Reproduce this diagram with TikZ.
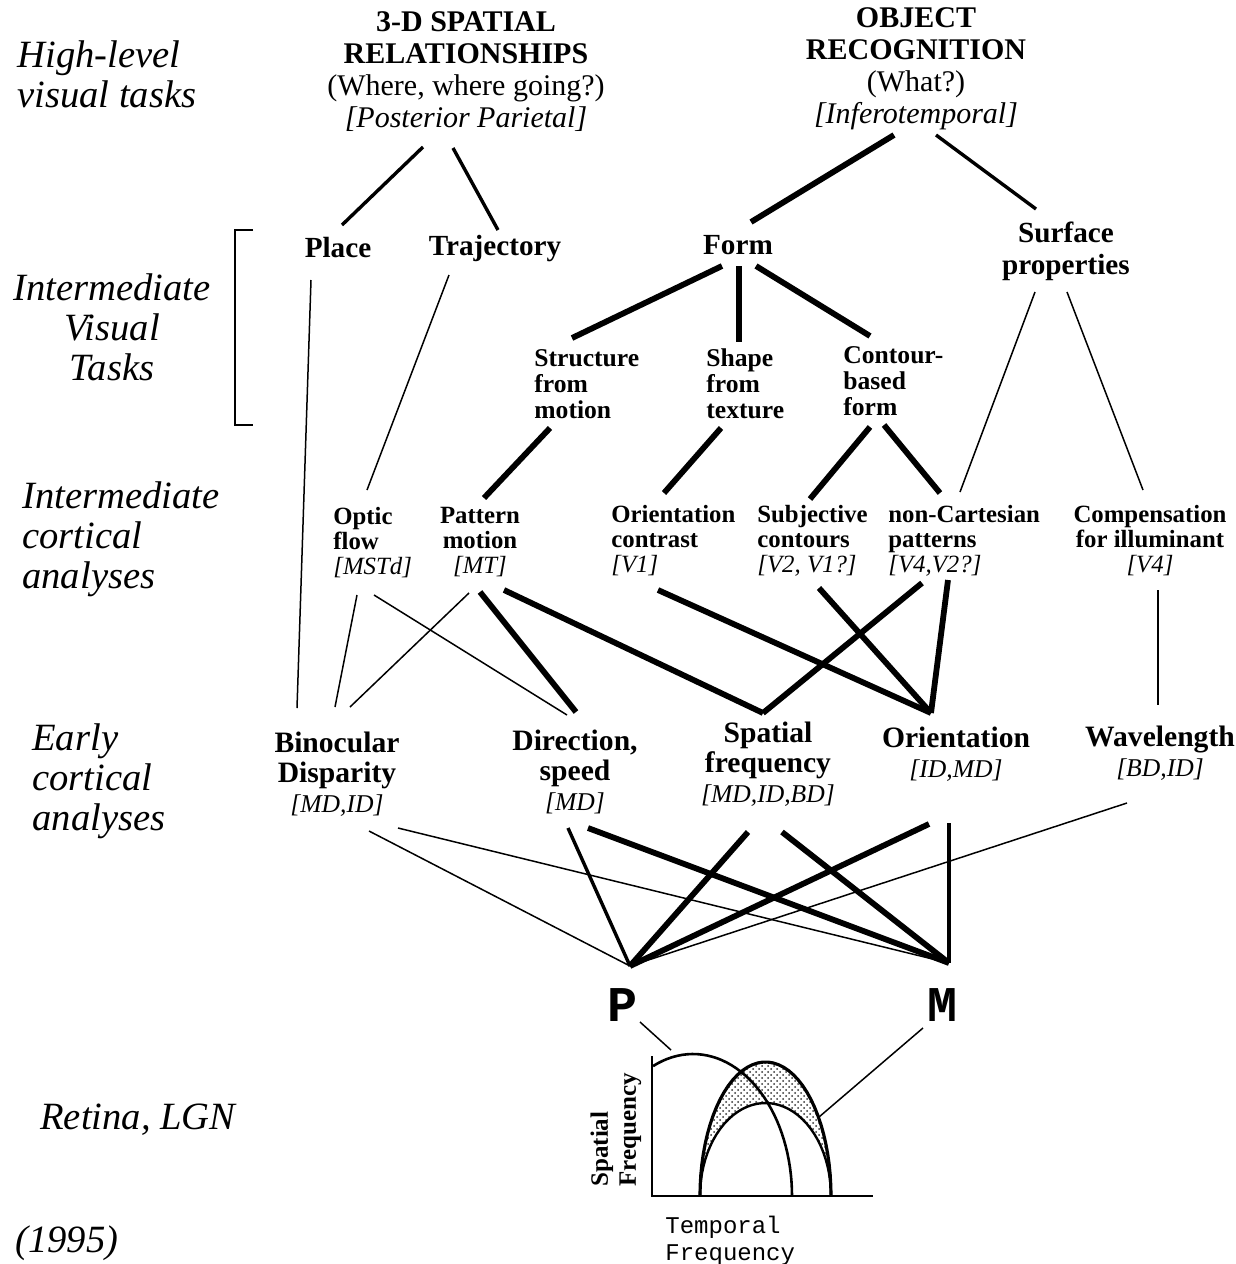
\documentclass[tikz,border=0pt]{standalone}
\usepackage{fontspec}
\setmainfont{Liberation Serif}
\setmonofont{Liberation Mono}
\usetikzlibrary{calc,patterns}
\newcommand{\area}[1]{{\mdseries\itshape [#1]}}
\newcommand{\areasm}[1]{{\fontsize{12.8}{15}\selectfont\mdseries\itshape [#1]}}
\tikzset{
  side/.style={inner sep=0pt,align=left,font=\itshape\fontsize{19.3}{20}\selectfont},
  goal/.style={inner sep=0pt,align=center,font=\fontsize{15}{16}\selectfont},
  task/.style={inner sep=0pt,align=center,font=\bfseries\fontsize{14.6}{16}\selectfont},
  subtask/.style={inner sep=0pt,align=left,anchor=west,font=\bfseries\fontsize{12.8}{13}\selectfont},
  cortex/.style={inner sep=0pt,font=\bfseries\fontsize{12.4}{12.5}\selectfont},
  early/.style={inner sep=0pt,align=center,font=\bfseries\fontsize{14.8}{15}\selectfont},
  stream/.style={inner sep=0pt,font=\ttfamily\bfseries\fontsize{25}{25}\selectfont},
  heavyline/.style={line width=2.9pt},
  midline/.style={line width=1.7pt},
  lightline/.style={line width=0.75pt},
}
\begin{document}
\begin{tikzpicture}[x=0.5pt,y=-0.5pt]
\useasboundingbox (0,0) rectangle (1236,1264);
\node[side,anchor=west] (hl) at (17,74) {High-level\\visual tasks};
\node[side,align=center] (ivt) at (112,327) {Intermediate\\Visual\\Tasks};
\node[side,anchor=west] (ica) at (22,539) {Intermediate\\cortical\\analyses};
\node[side,anchor=west] (eca) at (32,781) {Early\\cortical\\analyses};
\node[side,anchor=west] (ret) at (40,1120) {Retina, LGN};
\node[side,anchor=west] (year) at (15,1243) {(1995)};
\draw[lightline] (253,230) -- (235,230) -- (235,425) -- (253,425);

\node[goal] (where) at (466,72) {\textbf{3-D SPATIAL}\\\textbf{RELATIONSHIPS}\\(Where, where going?)\\\textit{[Posterior Parietal]}};
\node[goal] (what) at (916,69) {\textbf{OBJECT}\\\textbf{RECOGNITION}\\(What?)\\\textit{[Inferotemporal]}};

\node[task] (place) at (338,248) {Place};
\node[task] (traj) at (495,249) {Trajectory};
\node[task] (form) at (738,245) {Form};
\node[task] (surface) at (1066,251) {Surface\\properties};

\node[subtask] (sfm) at (534,384) {Structure\\from\\motion};
\node[subtask] (sft) at (706,384) {Shape\\from\\texture};
\node[subtask] (contour) at (843,381) {Contour-\\based\\form};

\node[cortex,align=left,anchor=west] (optic) at (333,543) {Optic\\flow\\\area{MSTd}};
\node[cortex,align=center] (pattern) at (480,542) {Pattern\\motion\\\area{MT}};
\node[cortex,align=left,anchor=west] (ocontrast) at (611,541) {Orientation\\contrast\\\area{V1}};
\node[cortex,align=left,anchor=west] (subj) at (757,541) {Subjective\\contours\\\area{V2, V1?}};
\node[cortex,align=left,anchor=west] (noncart) at (888,541) {non-Cartesian\\patterns\\\area{V4,V2?}};
\node[cortex,align=center] (comp) at (1150,541) {Compensation\\for illuminant\\\area{V4}};

\node[early] (bino) at (337,774) {Binocular\\Disparity\\\areasm{MD,ID}};
\node[early] (dir) at (575,772) {Direction,\\speed\\\areasm{MD}};
\node[early] (sfreq) at (768,764) {Spatial\\frequency\\\areasm{MD,ID,BD}};
\node[early] (orient) at (956,754) {Orientation\\\areasm{ID,MD}};
\node[early] (wave) at (1160,753) {Wavelength\\\areasm{BD,ID}};

\node[stream] (p) at (622,1005) {P};
\node[stream] (m) at (942,1005) {M};

% top levels
\draw[midline] ($(where)+(-43,75)$) -- ($(place)+(4,-23)$);
\draw[midline] ($(where)+(-13,76)$) -- ($(traj)+(3,-19)$);
\draw[heavyline] ($(what)+(-22,66)$) -- ($(form)+(13,-23)$);
\draw[midline] ($(what)+(20,66)$) -- ($(surface)+(-30,-42)$);
\draw[heavyline] ($(form)+(-16,21)$) -- ($(sfm.west)+(38,-46)$);
\draw[heavyline] ($(form)+(1,21)$) -- ($(sft.west)+(33,-42)$);
\draw[heavyline] ($(form)+(18,21)$) -- ($(contour.west)+(27,-45)$);
\draw[lightline] ($(surface)+(-31,41)$) -- ($(noncart.west)+(72,-49)$);
\draw[lightline] ($(surface)+(1,41)$) -- ($(comp)+(-7,-51)$);
\draw[lightline] ($(place)+(-27,32)$) -- ($(bino)+(-40,-66)$);
\draw[lightline] ($(traj)+(-46,26)$) -- ($(optic.west)+(34,-53)$);
\draw[heavyline] ($(sfm.west)+(16,44)$) -- ($(pattern)+(4,-44)$);
\draw[heavyline] ($(sft.west)+(15,44)$) -- ($(ocontrast.west)+(53,-48)$);
\draw[heavyline] ($(contour.west)+(27,46)$) -- ($(subj.west)+(53,-42)$);
\draw[heavyline] ($(contour.west)+(41,44)$) -- ($(noncart.west)+(52,-48)$);

% cortical to early
\draw[lightline] ($(optic.west)+(24,52)$) -- ($(bino)+(-2,-67)$);
\draw[lightline] ($(optic.west)+(41,52)$) -- ($(dir)+(-8,-57)$);
\draw[lightline] ($(pattern)+(-11,51)$) -- ($(bino)+(13,-67)$);
\draw[heavyline] ($(pattern)+(0,50)$) -- ($(dir)+(1,-60)$);
\draw[heavyline] ($(pattern)+(24,48)$) -- ($(sfreq)+(-5,-51)$);
\draw[heavyline] ($(ocontrast.west)+(47,49)$) -- ($(orient)+(-25,-41)$);
\draw[heavyline] ($(subj.west)+(62,47)$) -- ($(orient)+(-25,-41)$);
\draw[heavyline] ($(noncart.west)+(34,42)$) -- ($(sfreq)+(-5,-51)$);
\draw[heavyline] ($(noncart.west)+(60,39)$) -- ($(orient)+(-25,-41)$);
\draw[lightline] ($(comp)+(8,49)$) -- ($(wave)+(-2,-48)$);

% early to P and M
\draw[lightline] ($(bino)+(32,57)$) -- ($(p)+(8,-39)$);
\draw[lightline] ($(bino)+(61,54)$) -- ($(m)+(7,-42)$);
\draw[midline] ($(dir)+(-7,56)$) -- ($(p)+(8,-39)$);
\draw[heavyline] ($(dir)+(13,56)$) -- ($(m)+(7,-42)$);
\draw[heavyline] ($(sfreq)+(-20,68)$) -- ($(p)+(8,-39)$);
\draw[heavyline] ($(sfreq)+(14,68)$) -- ($(m)+(7,-42)$);
\draw[heavyline] ($(orient)+(-27,70)$) -- ($(p)+(8,-39)$);
\draw[midline] ($(orient)+(-7,69)$) -- ($(m)+(7,-42)$);
\draw[lightline] ($(wave)+(-33,50)$) -- ($(p)+(8,-39)$);

% retina plot
\coordinate (pcurve) at (671,1050);
\coordinate (mcurve) at (819,1117);
\draw[lightline] ($(p)+(18,17)$) -- (pcurve);
\draw[lightline] ($(m)+(-19,23)$) -- (mcurve);
\path[pattern=crosshatch dots,pattern color=black!80] plot[domain=180:0,samples=40] ({765.5+65.5*cos(\x)},{1196-134*sin(\x)}) -- plot[domain=0:180,samples=40] ({765.5+65.5*cos(\x)},{1196-93*sin(\x)}) -- cycle;
\draw[line width=1.1pt] (652,1056) -- (652,1196) -- (873,1196);
\draw[line width=1.3pt] plot[domain=113.8:0,samples=40] ({693+99*cos(\x)},{1196-142*sin(\x)});
\draw[line width=1.6pt] plot[domain=180:0,samples=40] ({765.5+65.5*cos(\x)},{1196-134*sin(\x)});
\draw[line width=1.2pt] plot[domain=180:0,samples=40] ({765.5+65.5*cos(\x)},{1196-93*sin(\x)});
\node[inner sep=0pt,rotate=90,align=left,anchor=west,font=\bfseries\fontsize{12.5}{14}\selectfont] (sflabel) at (616,1187) {Spatial\\Frequency};
\node[inner sep=0pt,align=left,anchor=west,font=\ttfamily\fontsize{12}{13.5}\selectfont] (tflabel) at (665,1241) {Temporal\\Frequency};
\end{tikzpicture}
\end{document}
